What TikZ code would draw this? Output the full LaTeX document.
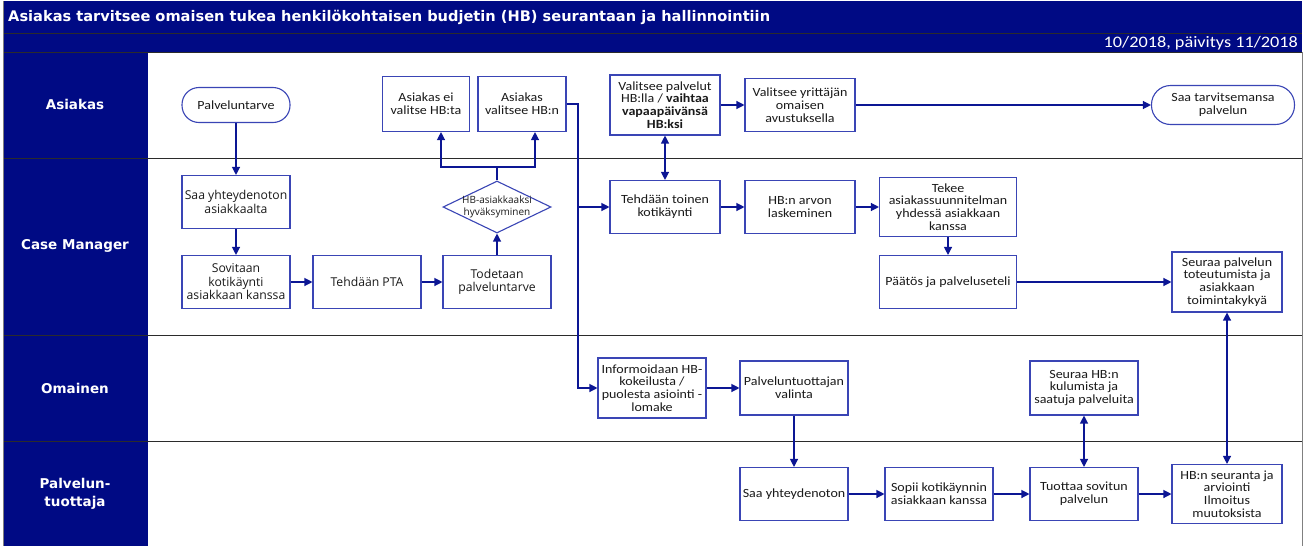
\documentclass[tikz,border=0pt]{standalone}
\usepackage{fontspec}
\setmainfont{Carlito}[FakeStretch=1.12]
\newfontfamily\headfont{DejaVu Sans}
\newfontfamily\segfont{Open Sans}
\newfontfamily\datefont{Carlito}[FakeStretch=1.14]
\usepackage{tikz}
\usetikzlibrary{arrows.meta,shapes.geometric}
\definecolor{navy}{HTML}{000A84}
\definecolor{boxline}{HTML}{3A45B5}
\definecolor{flow}{HTML}{0C1694}
\definecolor{laneline}{HTML}{2B2B2B}
\definecolor{boxtext}{HTML}{1A1A1A}
\newcommand\boxtxt{\fontsize{12.5}{12.8}\selectfont\lineskiplimit=-20pt}
\newcommand\segtxt{\segfont\fontsize{12.2}{13.5}\selectfont\lineskiplimit=-20pt}
\tikzset{
  pbox/.style={draw=boxline,fill=white,line width=1.1pt,align=center,inner sep=1pt,text=boxtext,font=\boxtxt},
  pwide/.style={pbox,font=\segtxt},
  pterm/.style={pbox,rounded corners=17pt},
  pdec/.style={draw=boxline,fill=white,line width=1.1pt,diamond,inner sep=0pt},
  dtext/.style={align=center,text=boxtext,font=\segfont\fontsize{10}{12.5}\selectfont},
  parr/.style={-{Triangle[length=8pt,width=8pt]},line width=1.2pt,draw=flow},
  parrb/.style={{Triangle[length=8pt,width=8pt]}-{Triangle[length=8pt,width=8pt]},line width=1.2pt,draw=flow},
  pline/.style={line width=1.2pt,draw=flow},
  plane/.style={draw=laneline,line width=0.9pt},
  phead/.style={text=white,align=center,font=\headfont\bfseries\fontsize{13.5}{18}\selectfont}
}

\begin{document}
\begin{tikzpicture}[x=1pt,y=-1pt]
  \useasboundingbox (0,0) rectangle (1313,546);
  % frame: 1 unit = 1 px of the chart
  \fill[navy] (3,1) rectangle (1302,52);
  \fill[navy] (3,52) rectangle (148,546);
  \draw[plane] (3,33.5) -- (1302,33.5);
  \draw[plane] (3,52) -- (1302,52);
  \draw[plane] (3,158) -- (1302,158);
  \draw[plane] (3,335) -- (1302,335);
  \draw[plane] (3,441) -- (1302,441);
  \draw[draw=gray,line width=1pt] (1302,52) -- (1302,546);
  \draw[draw=gray,line width=1pt] (3,1) -- (3,546);
  \node[anchor=west,text=white,inner sep=0pt,font=\headfont\bfseries\fontsize{14.6}{16}\selectfont] (title) at (8,17) {Asiakas tarvitsee omaisen tukea henkilökohtaisen budjetin (HB) seurantaan ja hallinnointiin};
  \node[anchor=east,text=white,inner sep=0pt,font=\datefont\fontsize{16}{18}\selectfont] (date) at (1298,43) {10/2018, päivitys 11/2018};
  \node[phead] (lAsiakas) at (75,104) {Asiakas};
  \node[phead] (lCase) at (75,246) {Case Manager};
  \node[phead] (lOmainen) at (75,388) {Omainen};
  \node[phead] (lTuottaja) at (75,494) {Palvelun-\\tuottaja};

  \node[pterm,minimum width=108pt,minimum height=35pt] (tarve) at (236,105) {Palveluntarve};
  \node[pbox,minimum width=87pt,minimum height=55pt] (eiHB) at (426,104) {Asiakas ei\\valitse HB:ta};
  \node[pbox,minimum width=88pt,minimum height=55pt] (valHB) at (522,104) {Asiakas\\valitsee HB:n};
  \node[pbox,minimum width=110pt,minimum height=60pt] (palvelut) at (665,105) {Valitsee palvelut\\HB:lla / \textbf{vaihtaa}\\\textbf{vapaapäivänsä}\\\textbf{HB:ksi}};
  \node[pbox,minimum width=110pt,minimum height=53pt] (yrittaja) at (800,105) {Valitsee yrittäjän\\omaisen\\avustuksella};
  \node[pterm,rounded corners=19pt,minimum width=143pt,minimum height=39pt] (saa) at (1223,105) {Saa tarvitsemansa\\palvelun};

  \node[pwide,minimum width=108pt,minimum height=53pt] (yht) at (236,202) {Saa yhteydenoton\\asiakkaalta};
  \node[pwide,minimum width=108pt,minimum height=53pt] (sov) at (236,282) {Sovitaan\\kotikäynti\\asiakkaan kanssa};
  \node[pwide,minimum width=108pt,minimum height=53pt] (pta) at (367,282) {Tehdään PTA};
  \node[pwide,minimum width=108pt,minimum height=53pt] (tod) at (497,282) {Todetaan\\palveluntarve};
  \node[pdec,minimum width=108pt,minimum height=52pt,label={[dtext]center:HB-asiakkaaksi\\hyväksyminen}] (dia) at (497,207) {};
  \node[pbox,minimum width=110pt,minimum height=53pt] (toinen) at (665,207) {Tehdään toinen\\kotikäynti};
  \node[pbox,minimum width=110pt,minimum height=53pt] (arvo) at (800,207) {HB:n arvon\\laskeminen};
  \node[pbox,minimum width=137pt,minimum height=59pt] (tekee) at (948,207) {Tekee\\asiakassuunnitelman\\yhdessä asiakkaan\\kanssa};
  \node[pbox,minimum width=137pt,minimum height=53pt] (paatos) at (948,282) {Päätös ja palveluseteli};
  \node[pbox,minimum width=110pt,minimum height=60pt] (seuraa) at (1227,282) {Seuraa palvelun\\toteutumista ja\\asiakkaan\\toimintakykyä};

  \node[pbox,minimum width=108pt,minimum height=60pt] (info) at (652,388) {Informoidaan HB-\\kokeilusta /\\puolesta asiointi -\\lomake};
  \node[pbox,minimum width=108pt,minimum height=54pt] (valinta) at (794,388) {Palveluntuottajan\\valinta};
  \node[pbox,minimum width=108pt,minimum height=54pt] (kulu) at (1084,388) {Seuraa HB:n\\kulumista ja\\saatuja palveluita};

  \node[pbox,minimum width=108pt,minimum height=53pt] (yhtp) at (794,494) {Saa yhteydenoton};
  \node[pbox,minimum width=108pt,minimum height=53pt] (sopii) at (939,494) {Sopii kotikäynnin\\asiakkaan kanssa};
  \node[pbox,minimum width=108pt,minimum height=53pt] (tuottaa) at (1084,494) {Tuottaa sovitun\\palvelun};
  \node[pbox,minimum width=110pt,minimum height=59pt] (hbseur) at (1227,494) {HB:n seuranta ja\\arviointi\\Ilmoitus\\muutoksista};

  \coordinate (split) at (497,167);
  \coordinate (trunk) at (578,207);
  \draw[parr] (tarve) -- (yht);
  \draw[parr] (yht) -- (sov);
  \draw[parr] (sov) -- (pta);
  \draw[parr] (pta) -- (tod);
  \draw[parr] (tod) -- (dia);
  \draw[pline] (dia.north) -- (split);
  \draw[parr] (split) -| ([xshift=15pt]eiHB.south);
  \draw[parr] (split) -| ([xshift=13pt]valHB.south);
  \draw[parr] (valHB.east) -| (trunk) |- (info.west);
  \draw[parr] (trunk) -- (toinen.west);
  \draw[parrb] (palvelut) -- (toinen);
  \draw[parr] (palvelut) -- (yrittaja);
  \draw[parr] (yrittaja) -- (saa);
  \draw[parr] (toinen) -- (arvo);
  \draw[parr] (arvo) -- (tekee);
  \draw[parr] (tekee) -- (paatos);
  \draw[parr] (paatos) -- (seuraa);
  \draw[parrb] (seuraa) -- (hbseur);
  \draw[parr] (info) -- (valinta);
  \draw[parr] (valinta) -- (yhtp);
  \draw[parr] (yhtp) -- (sopii);
  \draw[parr] (sopii) -- (tuottaa);
  \draw[parr] (tuottaa) -- (hbseur);
  \draw[parrb] (tuottaa) -- (kulu);
\end{tikzpicture}
\end{document}
